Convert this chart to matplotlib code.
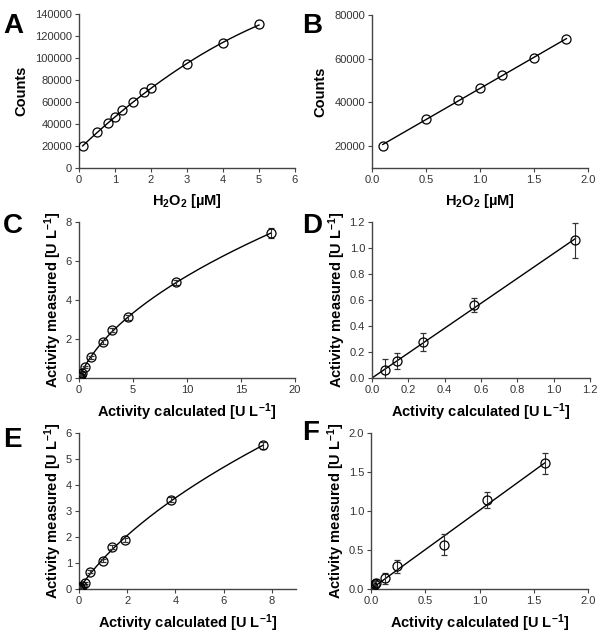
import numpy as np
import matplotlib
matplotlib.use("Agg")
import matplotlib.pyplot as plt

plt.rcParams["font.family"] = ["Liberation Sans", "DejaVu Sans"]
plt.rcParams["mathtext.fontset"] = "custom"
plt.rcParams["mathtext.rm"] = "Liberation Sans"
plt.rcParams["mathtext.bf"] = "Liberation Sans:bold"
plt.rcParams["mathtext.default"] = "bf"

# Panel A: H2O2 calibration, wide range
a_x = [0.1, 0.5, 0.8, 1.0, 1.2, 1.5, 1.8, 2.0, 3.0, 4.0, 5.0]
a_y = [19700, 32400, 40500, 46000, 52300, 59900, 68900, 72600, 94300, 113400, 130600]

# Panel B: H2O2 calibration, low range
b_x = [0.1, 0.5, 0.8, 1.0, 1.2, 1.5, 1.8]
b_y = [20200, 32500, 41000, 46500, 52600, 60200, 69000]

# Panel C
c_x = [0.035, 0.07, 0.14, 0.28, 0.56, 1.1, 2.2, 3.1, 4.5, 9.0, 17.8]
c_y = [0.03, 0.06, 0.13, 0.27, 0.56, 1.07, 1.85, 2.48, 3.12, 4.9, 7.42]
c_err = [0.02, 0.03, 0.04, 0.05, 0.06, 0.08, 0.1, 0.1, 0.12, 0.15, 0.25]

# Panel D
d_x = [0.07, 0.14, 0.28, 0.56, 1.12]
d_y = [0.065, 0.13, 0.275, 0.56, 1.06]
d_err = [0.085, 0.06, 0.07, 0.055, 0.135]

# Panel E
e_x = [0.0, 0.03, 0.06, 0.12, 0.24, 0.47, 0.98, 1.36, 1.92, 3.82, 7.64]
e_y = [0.0, 0.03, 0.06, 0.12, 0.24, 0.67, 1.08, 1.62, 1.88, 3.44, 5.52]
e_err = [0.01, 0.02, 0.02, 0.03, 0.04, 0.05, 0.06, 0.07, 0.07, 0.1, 0.15]

# Panel F
f_x = [0.0, 0.02, 0.04, 0.05, 0.13, 0.24, 0.67, 1.07, 1.60]
f_y = [0.0, 0.03, 0.06, 0.08, 0.14, 0.29, 0.57, 1.14, 1.61]
f_err = [0.01, 0.03, 0.04, 0.05, 0.07, 0.08, 0.13, 0.1, 0.13]

W, H = 600, 636
fig = plt.figure(figsize=(W / 100, H / 100), dpi=100)


def make_ax(left, top, right, bottom):
    return fig.add_axes([left / W, 1 - bottom / H, (right - left) / W, (bottom - top) / H])


def style(ax, letter, lx, ly, xlabel, ylabel, ylabelpad=1):
    for s in ["top", "right"]:
        ax.spines[s].set_visible(False)
    for s in ["left", "bottom"]:
        ax.spines[s].set_color("#444444")
        ax.spines[s].set_linewidth(1.0)
    ax.tick_params(direction="out", length=3, width=0.8, color="#444444",
                   labelsize=8, labelcolor="#333333", pad=2)
    ax.set_xlabel(xlabel, fontsize=10.5, fontweight="bold", labelpad=5)
    ax.set_ylabel(ylabel, fontsize=10.5, fontweight="bold", labelpad=ylabelpad)
    fig.text(lx / W, 1 - ly / H, letter, fontsize=20, fontweight="bold",
             ha="left", va="baseline")


def poly_line(ax, x, y, deg):
    x = np.asarray(x)
    p = np.polyfit(x, y, deg)
    xs = np.linspace(x.min(), x.max(), 200)
    ax.plot(xs, np.polyval(p, xs), color="black", lw=1.0, zorder=2)


def origin_line(ax, x, y):
    x = np.asarray(x)
    y = np.asarray(y)
    k = np.sum(x * y) / np.sum(x * x)
    xs = np.linspace(0, x.max(), 50)
    ax.plot(xs, k * xs, color="black", lw=1.0, zorder=2)


def sat_line(ax, x, y):
    # y = a * (sqrt(1 + b x) - 1), least squares over b
    x = np.asarray(x)
    y = np.asarray(y)
    best = None
    for b in np.linspace(0.01, 5, 2000):
        g = np.sqrt(1 + b * x) - 1
        a = np.sum(g * y) / np.sum(g * g)
        r = np.sum((a * g - y) ** 2)
        if best is None or r < best[0]:
            best = (r, a, b)
    _, a, b = best
    xs = np.linspace(0, x.max(), 300)
    ax.plot(xs, a * (np.sqrt(1 + b * xs) - 1), color="black", lw=1.0, zorder=2)


mk = dict(marker="o", ms=6.5, mfc="none", mec="black", mew=0.9, ls="none", zorder=3)
eb = dict(fmt="o", ms=6.5, mfc="none", mec="black", mew=0.9, ecolor="#333333",
          elinewidth=0.8, capsize=2, capthick=0.8, zorder=3)

h2o2 = r"H$_2$O$_2$ [µM]"
act_c = r"Activity calculated [U L$^{-1}$]"
act_m = r"Activity measured [U L$^{-1}$]"

# A
ax = make_ax(79, 14, 295, 168)
poly_line(ax, a_x, a_y, 2)
ax.plot(a_x, a_y, **mk)
ax.set_xlim(0, 6)
ax.set_ylim(0, 140000)
ax.set_xticks(range(0, 7))
ax.set_yticks(range(0, 140001, 20000))
style(ax, "A", 3, 33, h2o2, "Counts", ylabelpad=5)

# B
ax = make_ax(372, 15, 588, 168)
poly_line(ax, b_x, b_y, 1)
ax.plot(b_x, b_y, **mk)
ax.set_xlim(0, 2)
ax.set_ylim(10000, 80000)
ax.set_xticks([0, 0.5, 1.0, 1.5, 2.0])
ax.set_xticklabels(["0.0", "0.5", "1.0", "1.5", "2.0"])
ax.set_yticks([20000, 40000, 60000, 80000])
style(ax, "B", 302, 33, h2o2, "Counts", ylabelpad=5)

# C
ax = make_ax(79, 222, 295, 378)
sat_line(ax, c_x, c_y)
ax.errorbar(c_x, c_y, yerr=c_err, **eb)
ax.set_xlim(0, 20)
ax.set_ylim(0, 8)
ax.set_xticks([0, 5, 10, 15, 20])
ax.set_yticks([0, 2, 4, 6, 8])
style(ax, "C", 3, 233, act_c, act_m)

# D
ax = make_ax(372, 222, 590, 378)
origin_line(ax, d_x, d_y)
ax.errorbar(d_x, d_y, yerr=d_err, **eb)
ax.set_xlim(0, 1.2)
ax.set_ylim(0, 1.2)
ticks = [0, 0.2, 0.4, 0.6, 0.8, 1.0, 1.2]
ax.set_xticks(ticks)
ax.set_xticklabels([f"{t:.1f}" for t in ticks])
ax.set_yticks(ticks)
ax.set_yticklabels([f"{t:.1f}" for t in ticks])
style(ax, "D", 302, 233, act_c, act_m)

# E
ax = make_ax(79, 433, 296, 589)
sat_line(ax, e_x, e_y)
ax.errorbar(e_x, e_y, yerr=e_err, **eb)
ax.set_xlim(0, 9)
ax.set_ylim(0, 6)
ax.set_xticks([0, 2, 4, 6, 8])
ax.set_yticks(range(0, 7))
style(ax, "E", 3, 447, act_c, act_m)

# F
ax = make_ax(371, 433, 588, 589)
origin_line(ax, f_x, f_y)
ax.errorbar(f_x, f_y, yerr=f_err, **eb)
ax.set_xlim(0, 2)
ax.set_ylim(0, 2)
ft = [0, 0.5, 1.0, 1.5, 2.0]
ax.set_xticks(ft)
ax.set_xticklabels([f"{t:.1f}" for t in ft])
ax.set_yticks(ft)
ax.set_yticklabels([f"{t:.1f}" for t in ft])
style(ax, "F", 302, 440, act_c, act_m)

fig.savefig("out.png", dpi=100, facecolor="white")
